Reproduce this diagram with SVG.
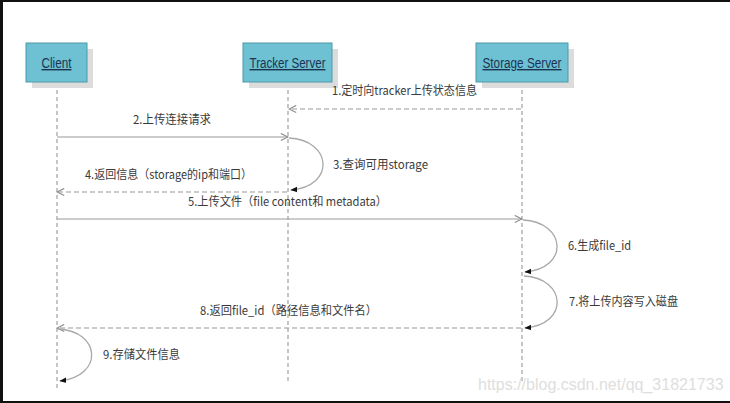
<svg xmlns="http://www.w3.org/2000/svg" width="730" height="403" viewBox="0 0 730 403">
<style>
.box{fill:#6dc1d2;stroke:#4d98a9;stroke-width:1}
.shadow{fill:#dcdcdc}
.title{font-family:"Liberation Sans","Noto Sans",sans-serif;font-size:14px;fill:#1c3452;text-decoration:underline;text-anchor:middle}
.life{stroke:#a0a0a0;stroke-width:1.2;stroke-dasharray:4,3;fill:none}
.msg{stroke:#9a9a9a;stroke-width:1.2;fill:none;marker-end:url(#open)}
.dash{stroke-dasharray:5,3}
.self{stroke:#a8a8a8;stroke-width:1.3;fill:none;marker-end:url(#solid)}
.lbl{font-family:"Noto Sans CJK SC","Liberation Sans",sans-serif;font-size:12px;fill:#3a3a3a}
.wm{font-family:"Liberation Sans",sans-serif;font-size:16px;fill:#dedede}
</style>
<defs>
<marker id="open" viewBox="0 0 10 10" refX="9" refY="5" markerWidth="9" markerHeight="9" markerUnits="userSpaceOnUse" orient="auto">
<path d="M1,1 L9,5 L1,9" fill="none" stroke="#8a8a8a" stroke-width="1.2"/>
</marker>
<marker id="solid" viewBox="0 0 10 10" refX="9" refY="5" markerWidth="7" markerHeight="7" markerUnits="userSpaceOnUse" orient="auto">
<path d="M0,1 L10,5 L0,9 Z" fill="#111"/>
</marker>
</defs>
<rect x="0" y="0" width="730" height="403" fill="#ffffff"/>
<rect x="0" y="0" width="730" height="2" fill="#111"/>
<rect x="0" y="0" width="3" height="403" fill="#111"/>
<rect x="0" y="401" width="730" height="2" fill="#111"/>

<g id="lifelines">
<line class="life" x1="57" y1="83" x2="57" y2="388"/>
<line class="life" x1="288" y1="83" x2="288" y2="384"/>
<line class="life" x1="522" y1="83" x2="522" y2="381"/>
</g>

<g id="client">
<rect class="shadow" x="32" y="49" width="61" height="39"/>
<rect class="box" x="26" y="43" width="61" height="39"/>
<text class="title" x="56.5" y="68" textLength="30" lengthAdjust="spacingAndGlyphs">Client</text>
</g>
<g id="tracker">
<rect class="shadow" x="249" y="49" width="89" height="39"/>
<rect class="box" x="243" y="43" width="89" height="39"/>
<text class="title" x="287.5" y="68" textLength="76" lengthAdjust="spacingAndGlyphs">Tracker Server</text>
</g>
<g id="storage">
<rect class="shadow" x="482" y="49" width="92" height="39"/>
<rect class="box" x="476" y="43" width="92" height="39"/>
<text class="title" x="522" y="68" textLength="79" lengthAdjust="spacingAndGlyphs">Storage Server</text>
</g>

<g id="connectors">
<line class="msg dash" x1="521" y1="109" x2="289" y2="109"/>
<line class="msg" x1="57" y1="137" x2="288" y2="137"/>
<path class="self" d="M289,138 C332,140 336,186 291,190"/>
<line class="msg dash" x1="287" y1="192" x2="57" y2="192"/>
<line class="msg" x1="57" y1="219" x2="522" y2="219"/>
<path class="self" d="M523,220 C566,222 570,268 525,272"/>
<path class="self" d="M524,276 C566,278 570,324 525,328"/>
<line class="msg dash" x1="521" y1="328" x2="57" y2="328"/>
<path class="self" d="M58,329 C101,331 104,376 60,381"/>
</g>

<g id="labels">
<text class="lbl" x="332" y="95" textLength="145" lengthAdjust="spacingAndGlyphs">1.定时向tracker上传状态信息</text>
<text class="lbl" x="133" y="124" textLength="78" lengthAdjust="spacingAndGlyphs">2.上传连接请求</text>
<text class="lbl" x="333" y="169" textLength="95" lengthAdjust="spacingAndGlyphs">3.查询可用storage</text>
<text class="lbl" x="85" y="179" textLength="167" lengthAdjust="spacingAndGlyphs">4.返回信息（storage的ip和端口）</text>
<text class="lbl" x="188" y="206" textLength="199" lengthAdjust="spacingAndGlyphs">5.上传文件（file content和 metadata）</text>
<text class="lbl" x="568" y="250" textLength="63" lengthAdjust="spacingAndGlyphs">6.生成file_id</text>
<text class="lbl" x="569" y="306" textLength="109" lengthAdjust="spacingAndGlyphs">7.将上传内容写入磁盘</text>
<text class="lbl" x="200" y="315" textLength="177" lengthAdjust="spacingAndGlyphs">8.返回file_id（路径信息和文件名）</text>
<text class="lbl" x="103" y="359" textLength="77" lengthAdjust="spacingAndGlyphs">9.存储文件信息</text>
</g>
<text class="wm" x="478" y="390">https://blog.csdn.net/qq_31821733</text>
</svg>
